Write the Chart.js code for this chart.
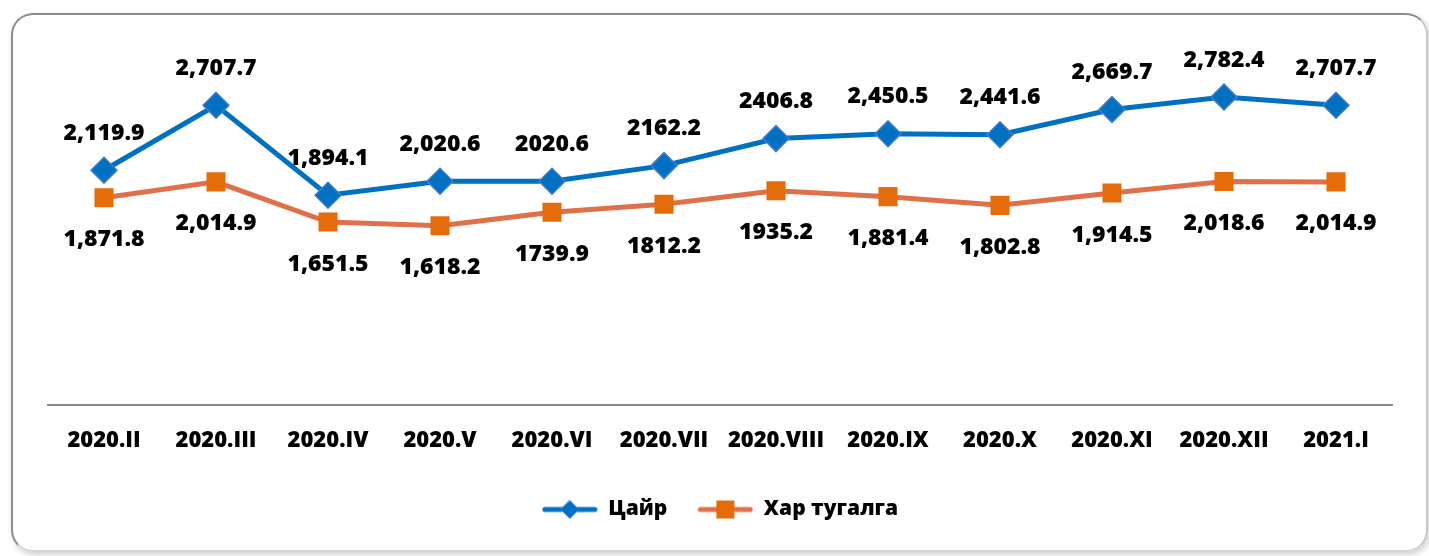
<!DOCTYPE html>
<html>
<head>
<meta charset="utf-8">
<script src="https://cdn.jsdelivr.net/npm/chart.js@4.4.1/dist/chart.umd.min.js"></script>
<style>
    html, body { margin: 0; padding: 0; background: #fff; }
    #frame {
        position: absolute; left: 11px; top: 13px; width: 1413px; height: 535px;
        border: 2px solid #8c8c8c; border-right-color: #c8c8c8; border-bottom-color: #d4d4d4;
        border-radius: 22px; box-shadow: 2px 3px 6px rgba(0, 0, 0, 0.18);
    }
    #chart { position: absolute; left: 0; top: 0; }
</style>
</head>
<body>
<div id="frame"></div>
<canvas id="chart" width="1429" height="556"></canvas>
<script>
const months = ['2020.II', '2020.III', '2020.IV', '2020.V', '2020.VI', '2020.VII',
    '2020.VIII', '2020.IX', '2020.X', '2020.XI', '2020.XII', '2021.I'];

const zinc = [2119.9, 2707.7, 1894.1, 2020.6, 2020.6, 2162.2, 2406.8, 2450.5, 2441.6, 2669.7, 2782.4, 2707.7];
const zincLabels = ['2,119.9', '2,707.7', '1,894.1', '2,020.6', '2020.6', '2162.2',
    '2406.8', '2,450.5', '2,441.6', '2,669.7', '2,782.4', '2,707.7'];

const lead = [1871.8, 2014.9, 1651.5, 1618.2, 1739.9, 1812.2, 1935.2, 1881.4, 1802.8, 1914.5, 2018.6, 2014.9];
const leadLabels = ['1,871.8', '2,014.9', '1,651.5', '1,618.2', '1739.9', '1812.2',
    '1935.2', '1,881.4', '1,802.8', '1,914.5', '2,018.6', '2,014.9'];

const FONT = '"Open Sans", "DejaVu Sans", sans-serif';
const BLUE = '#0070C0';
const BLUE_EDGE = '#4A7CC6';
const ORANGE_LINE = '#E0704A';
const ORANGE = '#E46C0A';

// legend icon: line with marker on it
function legendIcon(lineColor, fill, edge, shape) {
    const c = document.createElement('canvas');
    c.width = 56; c.height = 20;
    const g = c.getContext('2d');
    g.strokeStyle = lineColor;
    g.lineWidth = 5;
    g.lineCap = 'round';
    g.beginPath(); g.moveTo(3, 10); g.lineTo(53, 10); g.stroke();
    g.fillStyle = fill;
    if (shape === 'diamond') {
        g.beginPath();
        g.moveTo(28, 1); g.lineTo(37, 10); g.lineTo(28, 19); g.lineTo(19, 10);
        g.closePath();
        g.fill();
        g.strokeStyle = edge; g.lineWidth = 1; g.stroke();
    } else {
        g.fillRect(19, 1, 18, 18);
    }
    return c;
}

// value labels above / below the points
const valueLabels = {
    id: 'valueLabels',
    afterDatasetsDraw(chart) {
        const ctx = chart.ctx;
        ctx.save();
        ctx.font = '800 23px ' + FONT;
        ctx.fillStyle = '#000';
        ctx.textAlign = 'center';
        ctx.textBaseline = 'middle';
        chart.data.datasets.forEach((ds, i) => {
            const meta = chart.getDatasetMeta(i);
            meta.data.forEach((pt, j) => {
                ctx.fillText(ds.valueText[j], pt.x, pt.y + ds.labelShift);
            });
        });
        ctx.restore();
    }
};

const icons = [
    legendIcon(BLUE, BLUE, BLUE_EDGE, 'diamond'),
    legendIcon(ORANGE_LINE, ORANGE, ORANGE, 'square')
];

new Chart(document.getElementById('chart'), {
    type: 'line',
    data: {
        labels: months,
        datasets: [{
            label: 'Цайр',
            data: zinc,
            valueText: zincLabels,
            labelShift: -37,
            borderColor: BLUE,
            borderWidth: 5,
            pointStyle: 'rectRot',
            pointRadius: 13,
            pointBackgroundColor: BLUE,
            pointBorderColor: BLUE_EDGE,
            pointBorderWidth: 1.5,
            tension: 0
        }, {
            label: 'Хар тугалга',
            data: lead,
            valueText: leadLabels,
            labelShift: 42,
            borderColor: ORANGE_LINE,
            borderWidth: 5,
            pointStyle: 'rect',
            pointRadius: 13.5,
            pointBackgroundColor: ORANGE,
            pointBorderColor: ORANGE,
            pointBorderWidth: 0,
            tension: 0
        }]
    },
    options: {
        responsive: false,
        animation: false,
        layout: { padding: { left: 48, right: 37, top: 73, bottom: 26 } },
        plugins: {
            tooltip: { enabled: false },
            legend: {
                position: 'bottom',
                labels: {
                    usePointStyle: true,
                    pointStyleWidth: 56,
                    padding: 30,
                    color: '#000',
                    font: { family: FONT, size: 21, weight: '800' },
                    generateLabels: (chart) => chart.data.datasets.map((ds, i) => ({
                        text: ds.label,
                        pointStyle: icons[i],
                        fillStyle: ds.borderColor,
                        strokeStyle: ds.borderColor,
                        lineWidth: 0,
                        hidden: false,
                        datasetIndex: i
                    }))
                }
            }
        },
        scales: {
            x: {
                offset: true,
                grid: { display: false },
                border: { display: true, color: '#8a8a8a', width: 2 },
                ticks: {
                    color: '#000',
                    padding: 15,
                    maxRotation: 0,
                    autoSkip: false,
                    font: { family: FONT, size: 22, weight: '800' }
                }
            },
            y: {
                display: false,
                min: 0,
                max: 3000
            }
        }
    },
    plugins: [valueLabels]
});
</script>
</body>
</html>
